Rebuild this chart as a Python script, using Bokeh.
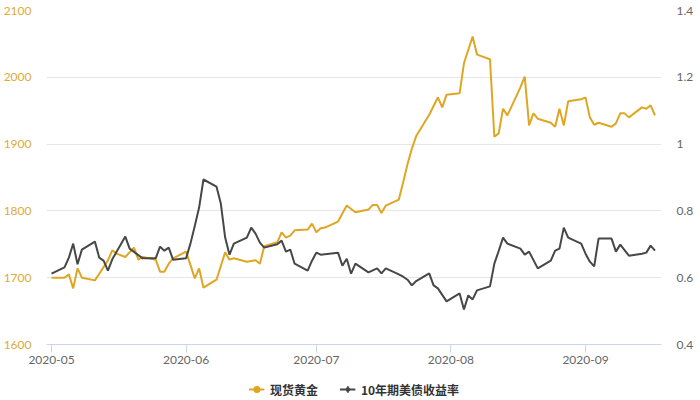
import pandas as pd
from bokeh.plotting import figure
from bokeh.layouts import column
from bokeh.models import (Range1d, LinearAxis, FixedTicker, MonthsTicker,
                          DatetimeTickFormatter, NumeralTickFormatter, Legend, LegendItem)
from bokeh.embed import file_html
from bokeh.resources import INLINE

# ---------------- data ----------------
series_names = ["现货黄金", "10年期美债收益率"]

gold_dates = ["2020-05-01", "2020-05-04", "2020-05-05", "2020-05-06", "2020-05-07", "2020-05-08",
              "2020-05-11", "2020-05-12", "2020-05-14", "2020-05-15", "2020-05-16", "2020-05-18",
              "2020-05-20", "2020-05-21", "2020-05-22", "2020-05-25", "2020-05-26", "2020-05-27",
              "2020-05-28", "2020-05-29", "2020-06-01", "2020-06-03", "2020-06-04", "2020-06-05",
              "2020-06-08", "2020-06-10", "2020-06-11", "2020-06-12", "2020-06-15", "2020-06-17",
              "2020-06-18", "2020-06-19", "2020-06-22", "2020-06-23", "2020-06-24", "2020-06-25",
              "2020-06-26", "2020-06-29", "2020-06-30", "2020-07-01", "2020-07-02", "2020-07-03",
              "2020-07-06", "2020-07-08", "2020-07-10", "2020-07-13", "2020-07-14", "2020-07-15",
              "2020-07-16", "2020-07-17", "2020-07-20", "2020-07-21", "2020-07-22", "2020-07-23",
              "2020-07-24", "2020-07-27", "2020-07-28", "2020-07-29", "2020-07-30", "2020-07-31",
              "2020-08-03", "2020-08-04", "2020-08-06", "2020-08-07", "2020-08-10", "2020-08-11",
              "2020-08-12", "2020-08-13", "2020-08-14", "2020-08-17", "2020-08-18", "2020-08-19",
              "2020-08-20", "2020-08-21", "2020-08-24", "2020-08-25", "2020-08-26", "2020-08-27",
              "2020-08-28", "2020-08-31", "2020-09-01", "2020-09-02", "2020-09-03", "2020-09-04",
              "2020-09-07", "2020-09-08", "2020-09-09", "2020-09-10", "2020-09-11", "2020-09-14",
              "2020-09-15", "2020-09-16", "2020-09-17"]
gold_values = [1700, 1700, 1705, 1684, 1714, 1700,
               1696, 1706, 1726, 1741, 1736, 1731,
               1745, 1727, 1731, 1727, 1709, 1709,
               1721, 1729, 1739, 1699, 1714, 1685,
               1697, 1738, 1727, 1729, 1724, 1726,
               1721, 1747, 1753, 1768, 1760, 1763,
               1771, 1772, 1781, 1768, 1774, 1775,
               1784, 1808, 1798, 1802, 1809, 1809,
               1797, 1808, 1817, 1843, 1870, 1893,
               1912, 1944, 1957, 1970, 1955, 1974,
               1976, 2021, 2061, 2034, 2027, 1911,
               1916, 1953, 1943, 1985, 2001, 1928,
               1946, 1938, 1932, 1926, 1953, 1928,
               1964, 1967, 1970, 1940, 1929, 1932,
               1926, 1931, 1946, 1946, 1940, 1955,
               1953, 1958, 1943]

yield_dates = ["2020-05-01", "2020-05-04", "2020-05-05", "2020-05-06", "2020-05-07", "2020-05-08",
               "2020-05-11", "2020-05-12", "2020-05-13", "2020-05-14", "2020-05-15", "2020-05-18",
               "2020-05-19", "2020-05-22", "2020-05-25", "2020-05-26", "2020-05-27", "2020-05-28",
               "2020-05-29", "2020-06-01", "2020-06-02", "2020-06-03", "2020-06-04", "2020-06-05",
               "2020-06-08", "2020-06-09", "2020-06-10", "2020-06-11", "2020-06-12", "2020-06-15",
               "2020-06-16", "2020-06-17", "2020-06-18", "2020-06-19", "2020-06-22", "2020-06-23",
               "2020-06-24", "2020-06-25", "2020-06-26", "2020-06-29", "2020-06-30", "2020-07-01",
               "2020-07-02", "2020-07-06", "2020-07-07", "2020-07-08", "2020-07-09", "2020-07-10",
               "2020-07-13", "2020-07-15", "2020-07-16", "2020-07-17", "2020-07-20", "2020-07-21",
               "2020-07-22", "2020-07-23", "2020-07-24", "2020-07-27", "2020-07-28", "2020-07-29",
               "2020-07-31", "2020-08-03", "2020-08-04", "2020-08-05", "2020-08-06", "2020-08-07",
               "2020-08-10", "2020-08-11", "2020-08-12", "2020-08-13", "2020-08-14", "2020-08-17",
               "2020-08-18", "2020-08-19", "2020-08-21", "2020-08-24", "2020-08-25", "2020-08-26",
               "2020-08-27", "2020-08-28", "2020-08-31", "2020-09-01", "2020-09-02", "2020-09-03",
               "2020-09-04", "2020-09-07", "2020-09-08", "2020-09-09", "2020-09-11", "2020-09-14",
               "2020-09-15", "2020-09-16", "2020-09-17"]
yield_values = [0.612, 0.631, 0.660, 0.702, 0.640, 0.684,
                0.708, 0.660, 0.651, 0.621, 0.655, 0.723,
                0.687, 0.658, 0.658, 0.693, 0.681, 0.690,
                0.654, 0.658, 0.702, 0.755, 0.810, 0.894,
                0.873, 0.822, 0.720, 0.669, 0.702, 0.720,
                0.750, 0.732, 0.705, 0.690, 0.700, 0.711,
                0.678, 0.684, 0.642, 0.621, 0.651, 0.675,
                0.669, 0.675, 0.636, 0.657, 0.612, 0.642,
                0.616, 0.628, 0.613, 0.628, 0.610, 0.603,
                0.594, 0.577, 0.590, 0.613, 0.577, 0.568,
                0.529, 0.553, 0.505, 0.547, 0.535, 0.562,
                0.574, 0.642, 0.680, 0.720, 0.702, 0.687,
                0.669, 0.678, 0.628, 0.651, 0.681, 0.687,
                0.750, 0.720, 0.702, 0.672, 0.648, 0.634,
                0.717, 0.717, 0.678, 0.699, 0.666, 0.672,
                0.675, 0.696, 0.681]

left_ticks = [1600, 1700, 1800, 1900, 2000, 2100]
right_ticks = [0.4, 0.6, 0.8, 1.0, 1.2, 1.4]

# ---------------- style ----------------
GOLD = "#DFA624"
GOLD_LABEL = "#E0AA33"
DARK = "#474747"
GRID = "#E6E6E6"
AXIS = "#CCD6EB"
LABEL = "#666666"
FONT = "Lato"
W = 696

gold_x = pd.to_datetime(gold_dates)
yield_x = pd.to_datetime(yield_dates)

x_start = gold_x[0] - pd.Timedelta(days=1.15)
x_end = gold_x[-1] + pd.Timedelta(days=1.5)

p = figure(width=W, height=378, x_axis_type="datetime",
           x_range=Range1d(x_start, x_end),
           y_range=Range1d(left_ticks[0], left_ticks[-1]),
           output_backend="svg", toolbar_location=None,
           min_border_left=46, min_border_right=34, min_border_top=10, min_border_bottom=34)
p.outline_line_color = None
p.background_fill_color = "white"
p.border_fill_color = "white"

p.extra_y_ranges = {"y2": Range1d(right_ticks[0], right_ticks[-1])}

# left axis
ya = p.yaxis[0]
ya.ticker = FixedTicker(ticks=left_ticks)
ya.axis_line_color = None
ya.major_tick_line_color = None
ya.major_tick_out = 0
ya.major_tick_in = 0
ya.minor_tick_line_color = None
ya.minor_tick_out = 0
ya.major_label_text_color = GOLD_LABEL
ya.major_label_text_font = FONT
ya.major_label_text_font_size = "12px"
ya.major_label_standoff = 15

# right axis
ax2 = LinearAxis(y_range_name="y2", ticker=FixedTicker(ticks=right_ticks),
                 formatter=NumeralTickFormatter(format="0.[0]"))
ax2.axis_line_color = None
ax2.major_tick_line_color = None
ax2.major_tick_out = 0
ax2.major_tick_in = 0
ax2.minor_tick_line_color = None
ax2.minor_tick_out = 0
ax2.major_label_text_color = LABEL
ax2.major_label_text_font = FONT
ax2.major_label_text_font_size = "12px"
ax2.major_label_standoff = 15
p.add_layout(ax2, "right")

# x axis
xa = p.xaxis[0]
xa.ticker = MonthsTicker(months=list(range(12)))
xa.formatter = DatetimeTickFormatter(months="%Y-%m", days="%Y-%m", years="%Y-%m")
xa.axis_line_color = AXIS
xa.major_tick_line_color = AXIS
xa.major_tick_out = 8
xa.major_tick_in = 0
xa.minor_tick_line_color = None
xa.major_label_text_color = LABEL
xa.major_label_text_font = FONT
xa.major_label_text_font_size = "12px"
xa.major_label_standoff = 3

p.xgrid.grid_line_color = None
p.ygrid.ticker = FixedTicker(ticks=left_ticks)
p.ygrid.grid_line_color = GRID
p.ygrid.grid_line_width = 1

# series
p.line(gold_x, gold_values, line_color=GOLD, line_width=2)
p.line(yield_x, yield_values, line_color=DARK, line_width=2, y_range_name="y2")

# legend strip (separate small figure holding only the legend; its sample
# renderers sit outside the visible range so only the legend keys show)
lf = figure(width=W, height=22, x_range=Range1d(0, 1), y_range=Range1d(0, 1),
            output_backend="svg", toolbar_location=None,
            x_axis_location=None, y_axis_location=None,
            min_border_left=0, min_border_right=0, min_border_top=0, min_border_bottom=0)
lf.outline_line_color = None
lf.grid.grid_line_color = None

hidden = dict(x=[-5], y=[-5])
lg_line = lf.line(line_color=GOLD, line_width=2, **hidden)
lg_mark = lf.scatter(marker="circle", size=8, fill_color=GOLD, line_color=GOLD, **hidden)
ly_line = lf.line(line_color=DARK, line_width=2, **hidden)
ly_mark = lf.scatter(marker="diamond", size=10, fill_color=DARK, line_color=DARK, **hidden)

legend = Legend(items=[LegendItem(label=series_names[0], renderers=[lg_line, lg_mark]),
                       LegendItem(label=series_names[1], renderers=[ly_line, ly_mark])],
                orientation="horizontal", location="center",
                border_line_color=None, background_fill_alpha=0,
                label_text_font="Noto Sans CJK SC", label_text_font_size="12px",
                label_text_font_style="bold", label_text_color="#333333",
                glyph_width=16, glyph_height=18, label_height=18,
                label_standoff=6, spacing=21, padding=0, margin=0)
lf.add_layout(legend, "center")

layout = column(p, lf, spacing=0)
open("out.html", "w").write(file_html(layout, INLINE))
